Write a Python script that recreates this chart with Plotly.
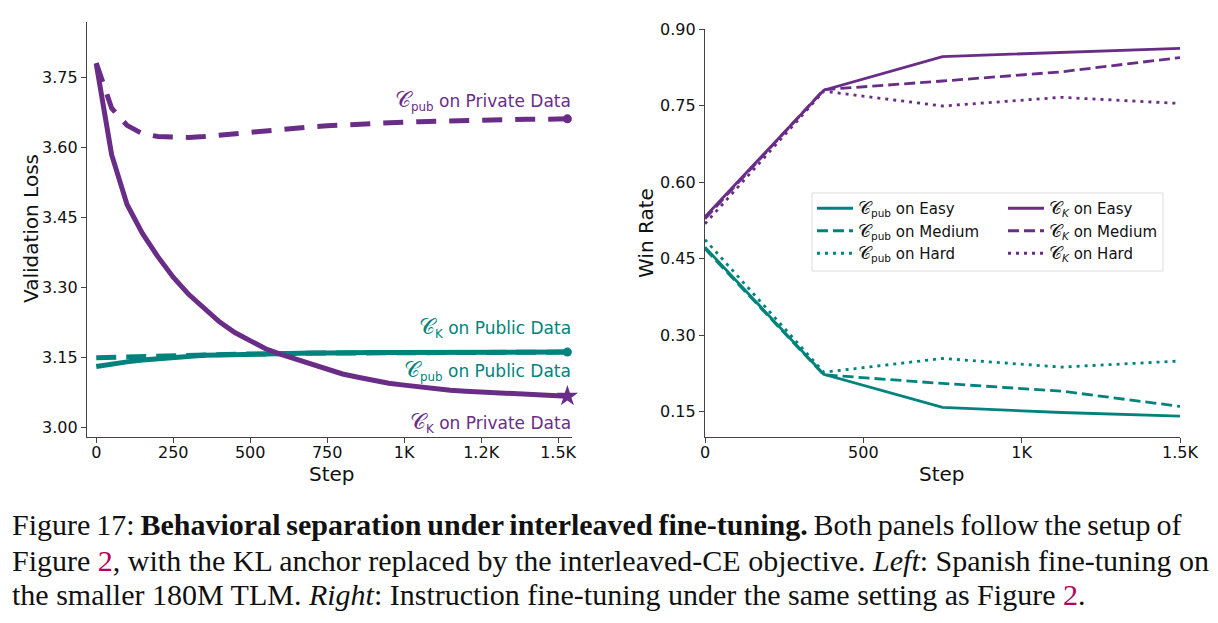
import plotly.graph_objects as go

# ---------------- data ----------------
# Left panel: validation loss vs step
left_steps = [0, 50, 100, 150, 200, 250, 300, 350, 400, 450, 500, 550, 600, 650, 700, 750,
              800, 850, 900, 950, 1000, 1050, 1100, 1150, 1200, 1250, 1300, 1350, 1400, 1450, 1500, 1530]
ck_private = [3.780, 3.585, 3.478, 3.416, 3.366, 3.322, 3.285, 3.254, 3.226, 3.203, 3.184, 3.168,
              3.156, 3.145, 3.134, 3.123, 3.114, 3.107, 3.100, 3.094, 3.090, 3.086, 3.082, 3.079,
              3.077, 3.075, 3.073, 3.071, 3.069, 3.068, 3.067, 3.066]
cpub_private = [3.782, 3.685, 3.648, 3.630, 3.624, 3.622, 3.622, 3.624, 3.627, 3.630, 3.634, 3.638,
                3.641, 3.643, 3.645, 3.647, 3.649, 3.651, 3.652, 3.653, 3.655, 3.656, 3.657, 3.658,
                3.659, 3.659, 3.660, 3.660, 3.661, 3.661, 3.662, 3.662]
ck_public = [3.130, 3.136, 3.140, 3.144, 3.147, 3.150, 3.152, 3.154, 3.155, 3.156, 3.157, 3.158,
             3.158, 3.159, 3.159, 3.159, 3.160, 3.160, 3.160, 3.160, 3.160, 3.160, 3.160, 3.161,
             3.161, 3.161, 3.161, 3.161, 3.161, 3.161, 3.161, 3.161]
cpub_public = [3.149, 3.150, 3.151, 3.152, 3.153, 3.154, 3.155, 3.155, 3.156, 3.156, 3.157, 3.157,
               3.158, 3.158, 3.159, 3.159, 3.159, 3.159, 3.160, 3.160, 3.160, 3.160, 3.160, 3.160,
               3.161, 3.161, 3.161, 3.161, 3.161, 3.161, 3.161, 3.161]
left_xticks = [0, 250, 500, 750, 1000, 1250, 1500]
left_xlabels = ["0", "250", "500", "750", "1K", "1.2K", "1.5K"]
left_yticks = [3.00, 3.15, 3.30, 3.45, 3.60, 3.75]

# Right panel: win rate vs step
right_steps = [0, 375, 750, 1125, 1500]
ck_easy = [0.532, 0.780, 0.846, 0.854, 0.862]
ck_medium = [0.528, 0.781, 0.798, 0.816, 0.844]
ck_hard = [0.518, 0.778, 0.749, 0.766, 0.754]
cpub_easy = [0.472, 0.223, 0.158, 0.148, 0.141]
cpub_medium = [0.469, 0.222, 0.205, 0.190, 0.160]
cpub_hard = [0.487, 0.227, 0.254, 0.237, 0.249]
right_xticks = [0, 500, 1000, 1500]
right_xlabels = ["0", "500", "1K", "1.5K"]
right_yticks = [0.15, 0.30, 0.45, 0.60, 0.75, 0.90]

# ---------------- style ----------------
PURPLE = "#6a2d87"
TEAL = "#00837c"
AXC = "#444444"
FONT = "DejaVu Sans"
C = "\U0001D49E"  # script C
W, H = 1218, 623

def px_x(p):
    return p / W

def px_y(p):
    return 1 - p / H

def bigC(size):
    return f"<span style='font-size:{size}px'>{C}</span>"

fig = go.Figure()

# Left panel lines
fig.add_trace(go.Scatter(x=left_steps, y=cpub_private, mode="lines", name="C_pub on Private Data",
                         line=dict(color=PURPLE, width=5, dash="20px,13px"),
                         xaxis="x", yaxis="y", showlegend=False))
fig.add_trace(go.Scatter(x=left_steps, y=cpub_public, mode="lines", name="C_pub on Public Data",
                         line=dict(color=TEAL, width=5, dash="20px,10px"),
                         xaxis="x", yaxis="y", showlegend=False))
fig.add_trace(go.Scatter(x=left_steps, y=ck_public, mode="lines", name="C_K on Public Data",
                         line=dict(color=TEAL, width=5),
                         xaxis="x", yaxis="y", showlegend=False))
fig.add_trace(go.Scatter(x=left_steps, y=ck_private, mode="lines", name="C_K on Private Data",
                         line=dict(color=PURPLE, width=5),
                         xaxis="x", yaxis="y", showlegend=False))
# end markers
fig.add_trace(go.Scatter(x=[left_steps[-1]], y=[cpub_private[-1]], mode="markers",
                         marker=dict(color=PURPLE, size=9, symbol="circle"),
                         xaxis="x", yaxis="y", showlegend=False, cliponaxis=False))
fig.add_trace(go.Scatter(x=[left_steps[-1]], y=[ck_public[-1]], mode="markers",
                         marker=dict(color=TEAL, size=9, symbol="circle"),
                         xaxis="x", yaxis="y", showlegend=False, cliponaxis=False))
fig.add_trace(go.Scatter(x=[left_steps[-1]], y=[ck_private[-1]], mode="markers",
                         marker=dict(color=PURPLE, size=16, symbol="star"),
                         xaxis="x", yaxis="y", showlegend=False, cliponaxis=False))

# Right panel lines
lw = 2.8
DASH = "11px,5px"
DOT = "3px,5px"
LEGC = bigC(18)
right_series = [
    (cpub_easy, TEAL, "solid", f"{LEGC}<sub>pub</sub> on Easy", "legend"),
    (cpub_medium, TEAL, DASH, f"{LEGC}<sub>pub</sub> on Medium", "legend"),
    (cpub_hard, TEAL, DOT, f"{LEGC}<sub>pub</sub> on Hard", "legend"),
    (ck_easy, PURPLE, "solid", f"{LEGC}<sub><i>K</i></sub> on Easy", "legend2"),
    (ck_medium, PURPLE, DASH, f"{LEGC}<sub><i>K</i></sub> on Medium", "legend2"),
    (ck_hard, PURPLE, DOT, f"{LEGC}<sub><i>K</i></sub> on Hard", "legend2"),
]
for i, (vals, col, dash, name, leg) in enumerate(right_series):
    fig.add_trace(go.Scatter(x=right_steps, y=vals, mode="lines", name=name,
                             line=dict(color=col, width=lw, dash=dash),
                             xaxis="x2", yaxis="y2", legend=leg, legendgroup=f"g{i}"))

axis_common = dict(showline=True, linecolor=AXC, linewidth=1.3, ticks="outside", ticklen=5,
                   tickwidth=1.2, tickcolor=AXC, showgrid=False, zeroline=False,
                   tickfont=dict(family=FONT, size=16, color="#111"), mirror=False)

fig.update_layout(
    width=W, height=H,
    margin=dict(l=0, r=0, t=0, b=0, autoexpand=False),
    paper_bgcolor="white", plot_bgcolor="white",
    font=dict(family=FONT, color="#111"),
    xaxis=dict(domain=[px_x(87), px_x(572)], range=[-30, 1545], anchor="y",
               tickvals=left_xticks, ticktext=left_xlabels, ticklabelstandoff=-4, **axis_common),
    yaxis=dict(domain=[px_y(437), px_y(22)], range=[2.9786, 3.8700], anchor="x",
               tickvals=left_yticks, tickformat=".2f", **axis_common),
    xaxis2=dict(domain=[px_x(705), px_x(1180)], range=[0, 1500], anchor="y2",
                tickvals=right_xticks, ticktext=right_xlabels, ticklabelstandoff=-4, **axis_common),
    yaxis2=dict(domain=[px_y(437), px_y(29)], range=[0.1, 0.9], anchor="x2",
                tickvals=right_yticks, tickformat=".2f", **axis_common),
    legend=dict(x=px_x(812), y=px_y(192), xanchor="left", yanchor="top",
                bgcolor="rgba(0,0,0,0)", borderwidth=0, tracegroupgap=0, itemwidth=36,
                font=dict(family=FONT, size=15, color="#111")),
    legend2=dict(x=px_x(1003), y=px_y(192), xanchor="left", yanchor="top",
                 bgcolor="rgba(0,0,0,0)", borderwidth=0, tracegroupgap=0, itemwidth=36,
                 font=dict(family=FONT, size=15, color="#111")),
    shapes=[dict(type="rect", xref="paper", yref="paper",
                 x0=px_x(812), x1=px_x(1163), y0=px_y(271), y1=px_y(193),
                 line=dict(color="#dddddd", width=1), fillcolor="rgba(255,255,255,0.85)",
                 layer="below")],
)

ann = []
TF = dict(family=FONT, size=20, color="#111")
# axis titles
ann.append(dict(text="Validation Loss", x=px_x(31), y=px_y(229), xref="paper", yref="paper",
                xanchor="center", yanchor="middle", textangle=-90, showarrow=False, font=TF))
ann.append(dict(text="Step", x=px_x(332), y=px_y(474), xref="paper", yref="paper",
                xanchor="center", yanchor="middle", showarrow=False, font=TF))
ann.append(dict(text="Win Rate", x=px_x(646), y=px_y(233), xref="paper", yref="paper",
                xanchor="center", yanchor="middle", textangle=-90, showarrow=False, font=TF))
ann.append(dict(text="Step", x=px_x(942), y=px_y(474), xref="paper", yref="paper",
                xanchor="center", yanchor="middle", showarrow=False, font=TF))
# inline labels, left panel
LC = bigC(22)
labels = [
    (f"{LC}<sub>pub</sub> on Private Data", 100, PURPLE),
    (f"{LC}<sub>K</sub> on Public Data", 327, TEAL),
    (f"{LC}<sub>pub</sub> on Public Data", 370, TEAL),
    (f"{LC}<sub>K</sub> on Private Data", 422, PURPLE),
]
for t, yy, col in labels:
    ann.append(dict(text=t, x=px_x(573), y=px_y(yy), xref="paper", yref="paper",
                    xanchor="right", yanchor="middle", showarrow=False,
                    font=dict(family=FONT, size=17, color=col)))
# caption
LINK = "#b5005b"
cap = [
    ("<span style='word-spacing:-1.6px'>Figure 17: <b>Behavioral separation under interleaved fine-tuning.</b> Both panels follow the setup of</span>", 524),
    (f"Figure <span style='color:{LINK}'>2</span>, with the KL anchor replaced by the interleaved-CE objective. <i>Left</i>: Spanish fine-tuning on", 560),
    (f"the smaller 180M TLM. <i>Right</i>: Instruction fine-tuning under the same setting as Figure <span style='color:{LINK}'>2</span>.", 594),
]
for t, yy in cap:
    ann.append(dict(text=t, x=px_x(10), y=px_y(yy), xref="paper", yref="paper",
                    xanchor="left", yanchor="middle", showarrow=False, align="left",
                    font=dict(family="Liberation Serif", size=30, color="#111")))
fig.update_layout(annotations=ann)

fig.write_html("out.html")
